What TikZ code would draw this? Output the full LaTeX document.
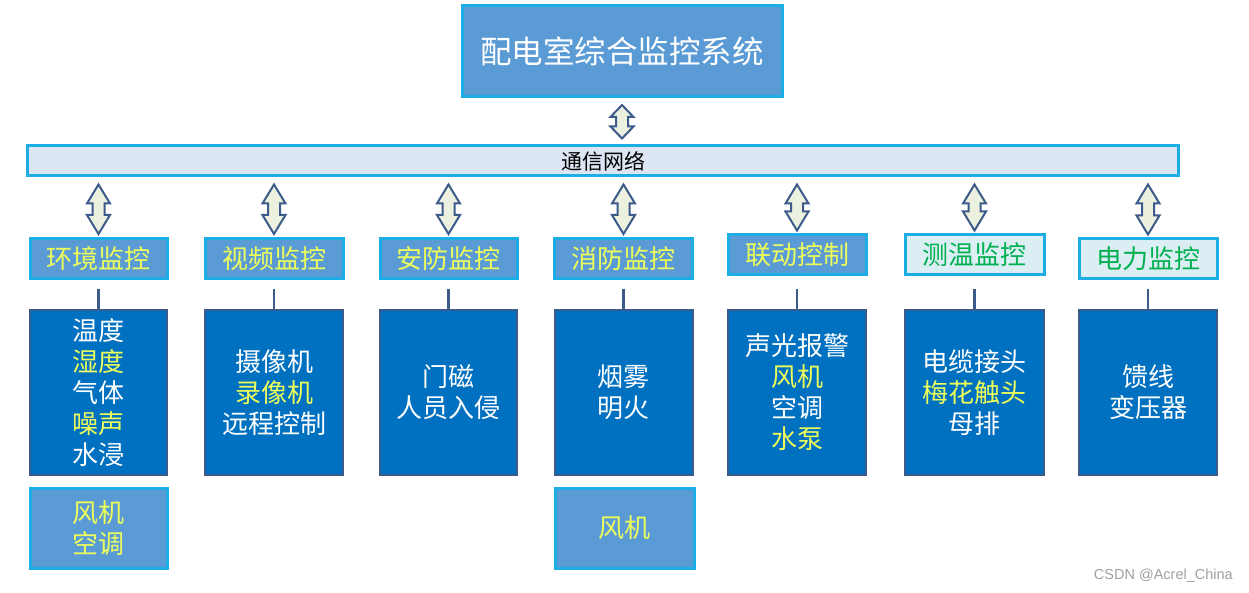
\documentclass[tikz,border=0pt]{standalone}
\usepackage{fontspec}
\newfontfamily\cjk{Noto Sans CJK SC}
\newfontfamily\wmfont{Liberation Sans}
\usetikzlibrary{calc}
\definecolor{midblue}{RGB}{91,155,213}
\definecolor{cyanb}{RGB}{28,173,228}
\definecolor{barfill}{RGB}{220,230,242}
\definecolor{deepblue}{RGB}{0,112,192}
\definecolor{navy}{RGB}{60,90,138}
\definecolor{arrfill}{RGB}{235,241,222}
\definecolor{yel}{RGB}{238,255,90}
\definecolor{lightcat}{RGB}{218,238,243}
\definecolor{grn}{RGB}{0,176,80}
\definecolor{wmgray}{RGB}{160,160,160}
\newcommand\bidir[3]{%
  \filldraw[arrowst] let \p1=(#1), \p2=(#2) in
    (\x1,\y1) -- (\x1+11.5pt,\y1-#3) -- (\x1+6pt,\y1-#3) -- (\x1+6pt,\y2+#3)
    -- (\x1+11.5pt,\y2+#3) -- (\x1,\y2) -- (\x1-11.5pt,\y2+#3) -- (\x1-6pt,\y2+#3)
    -- (\x1-6pt,\y1-#3) -- (\x1-11.5pt,\y1-#3) -- cycle;}
\begin{document}
\begin{tikzpicture}[x=1pt,y=-1pt,
  titlebox/.style={draw=cyanb, fill=midblue, line width=3pt, text=white,
    font=\cjk\fontsize{31.5}{36}\selectfont, inner sep=0pt},
  netbar/.style={draw=cyanb, fill=barfill, line width=3pt, text=black,
    font=\cjk\fontsize{21}{24}\selectfont, inner sep=0pt},
  catbox/.style={draw=cyanb, fill=midblue, line width=3pt, text=yel,
    font=\cjk\fontsize{26}{30}\selectfont, inner sep=0pt, minimum height=40pt},
  catlight/.style={catbox, fill=lightcat, text=grn},
  detail/.style={draw=navy, fill=deepblue, line width=2pt, text=white,
    font=\cjk\fontsize{26}{31}\selectfont, align=center, inner sep=0pt,
    minimum height=165pt},
  extrabox/.style={draw=cyanb, fill=midblue, line width=3pt, text=yel,
    font=\cjk\fontsize{26}{31}\selectfont, align=center, inner sep=0pt,
    minimum height=80pt},
  arrowst/.style={draw=navy, fill=arrfill, line width=2pt, line join=miter},
  conn/.style={draw=navy, line width=2.5pt}
]
\useasboundingbox (0,0) rectangle (1249,593);
\fill[white] (0,0) rectangle (1249,593);

\node[titlebox, minimum width=320pt, minimum height=91pt] (top) at (622,51) {配电室综合监控系统};
\node[netbar, minimum width=1151pt, minimum height=30pt] (net) at (603,161) {通信网络};

% categories
\node[catbox, minimum width=137pt] (c1) at (98.5,258.5) {环境监控};
\node[catbox, minimum width=138pt] (c2) at (274,258.5) {视频监控};
\node[catbox, minimum width=137pt] (c3) at (448.5,258.5) {安防监控};
\node[catbox, minimum width=138pt] (c4) at (623.5,258.5) {消防监控};
\node[catbox, minimum width=138pt] (c5) at (797,255) {联动控制};
\node[catlight, minimum width=139pt] (c6) at (974.5,255) {测温监控};
\node[catlight, minimum width=138pt] (c7) at (1148,259) {电力监控};

% details
\node[detail, minimum width=137pt] (d1) at (98.5,392.5)
  {温度\\{\color{yel}湿度}\\气体\\{\color{yel}噪声}\\水浸};
\node[detail, minimum width=138pt] (d2) at (274,392.5)
  {摄像机\\{\color{yel}录像机}\\远程控制};
\node[detail, minimum width=137pt] (d3) at (448.5,392.5)
  {门磁\\人员入侵};
\node[detail, minimum width=138pt] (d4) at (623.5,392.5)
  {烟雾\\明火};
\node[detail, minimum width=138pt] (d5) at (797,392.5)
  {声光报警\\{\color{yel}风机}\\空调\\{\color{yel}水泵}};
\node[detail, minimum width=139pt] (d6) at (974.5,392.5)
  {电缆接头\\{\color{yel}梅花触头}\\母排};
\node[detail, minimum width=138pt] (d7) at (1148,392.5)
  {馈线\\变压器};

% extra boxes
\node[extrabox, minimum width=137pt] (e1) at (98.5,528) {风机\\空调};
\node[extrabox, minimum width=139pt] (e4) at (624.5,528) {风机};

% double arrows
\bidir{$(top.south)+(0,7)$}{$(net.north)+(0,-6)$}{12pt}
\foreach \i in {1,...,7}{
  \bidir{$(net.south -| c\i)+(0,7)$}{$(c\i.north)+(0,-3)$}{19pt}
}

% connectors
\foreach \i/\s in {1/9,2/9,3/9,4/9,5/13,6/13,7/9}{
  \draw[conn, shorten <=\s pt] (c\i.south) -- (d\i.north);
}

\node[anchor=east, text=wmgray, font=\wmfont\fontsize{14.5}{16}\selectfont, inner sep=0pt] (wm) at (1233,576) {CSDN @Acrel\_China};
\end{tikzpicture}
\end{document}
